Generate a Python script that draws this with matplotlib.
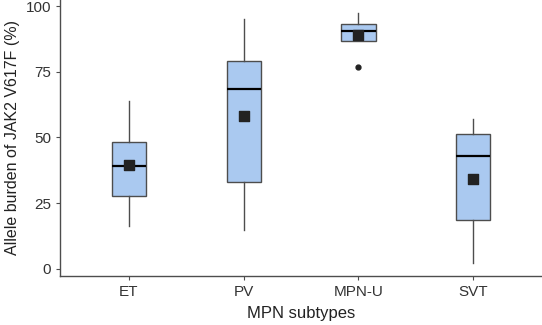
import matplotlib.pyplot as plt

plt.rcParams['font.family'] = ['Liberation Sans', 'DejaVu Sans']

subtypes = ['ET', 'PV', 'MPN-U', 'SVT']
whisker_low = [16.3, 14.8, 86.7, 2.2]
q1 = [27.9, 33.2, 86.7, 18.4]
medians = [39.2, 68.3, 90.6, 43.1]
q3 = [48.4, 79.2, 93.0, 51.3]
whisker_high = [64.0, 95.0, 97.2, 57.0]
means = [39.4, 58.2, 89.1, 34.3]
outliers = [[], [], [76.9], []]

box_color = '#aac9f0'
edge_color = '#4d4d4d'

stats = []
for i, name in enumerate(subtypes):
    stats.append({
        'label': name, 'whislo': whisker_low[i], 'q1': q1[i], 'med': medians[i],
        'q3': q3[i], 'whishi': whisker_high[i], 'fliers': outliers[i], 'mean': means[i],
    })

fig = plt.figure(figsize=(5.42, 3.25), dpi=100)
ax = fig.add_axes([0.111, 0.151, 0.889, 0.849])

positions = list(range(1, len(subtypes) + 1))
ax.bxp(stats, positions=positions, widths=0.3, patch_artist=True, showcaps=False,
       boxprops=dict(facecolor=box_color, edgecolor=edge_color, linewidth=1.0),
       medianprops=dict(color='black', linewidth=1.6),
       whiskerprops=dict(color=edge_color, linewidth=1.0),
       flierprops=dict(marker='o', markerfacecolor='#222222', markeredgecolor='#222222', markersize=3.5))
ax.scatter(positions, means, marker='s', s=50, color='#222222', zorder=5)

ax.set_xlim(0.4, 4.6)
ax.set_ylim(-2.7, 102.3)
ax.set_yticks([0, 25, 50, 75, 100])
ax.set_xticks(positions)
ax.set_xticklabels(subtypes)

for side in ['top', 'right']:
    ax.spines[side].set_visible(False)
for side in ['left', 'bottom']:
    ax.spines[side].set_color(edge_color)
    ax.spines[side].set_linewidth(1.0)
ax.tick_params(colors=edge_color, labelcolor='#333333', labelsize=11, length=3)

ax.set_ylabel('Allele burden of JAK2 V617F (%)', fontsize=11.5, color='#222222', labelpad=4)
ax.set_xlabel('MPN subtypes', fontsize=12, color='#222222', labelpad=5)

plt.savefig('out.png', dpi=100)
